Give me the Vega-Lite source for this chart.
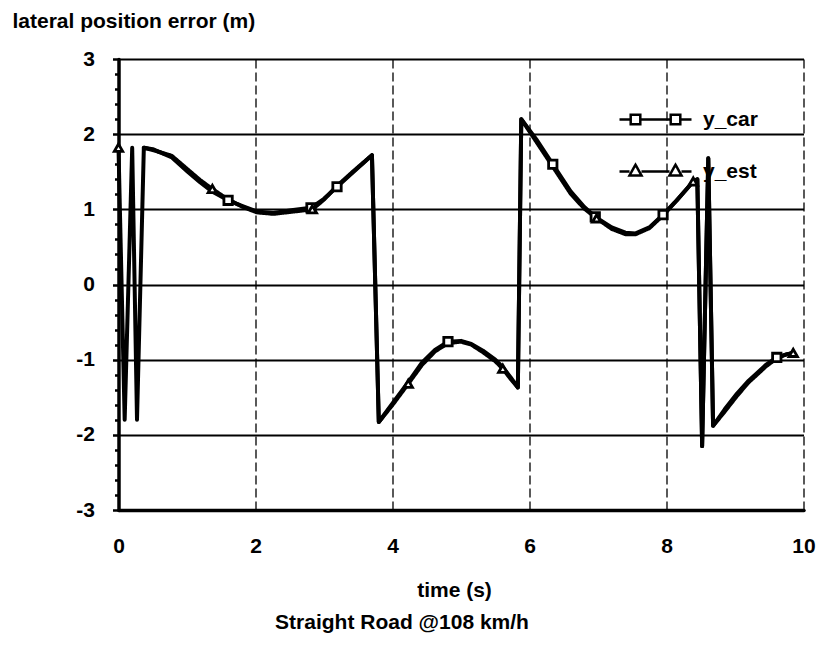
{
  "$schema": "https://vega.github.io/schema/vega-lite/v6.json",
  "autosize": "none",
  "width": 685,
  "height": 451,
  "padding": {"left": 118.5, "top": 59, "right": 15.5, "bottom": 136},
  "background": "white",
  "config": {
    "font": "Liberation Sans",
    "view": {"stroke": null},
    "axis": {"labelFont": "Liberation Sans", "titleFont": "Liberation Sans", "labelFontWeight": "bold", "titleFontWeight": "bold", "labelColor": "black", "titleColor": "black", "labelFontSize": 21, "titleFontSize": 21},
    "legend": {"orient": "none", "title": null, "padding": 0, "symbolSize": 1600, "symbolStrokeWidth": 2.5, "symbolStrokeColor": "black", "symbolFillColor": "white", "labelOffset": 26, "labelFontSize": 21, "labelFont": "Liberation Sans", "labelFontWeight": "bold", "labelColor": "black"}
  },
  "title": {"text": "Straight Road @108 km/h", "orient": "bottom", "anchor": "middle", "frame": "group", "dx": -59, "offset": 12, "font": "Liberation Sans", "fontSize": 21, "fontWeight": "bold", "color": "black"},
  "datasets": {
    "curve": [
      {"t": 0.37, "y": 1.82, "series": "y_car"},
      {"t": 0.5, "y": 1.8, "series": "y_car"},
      {"t": 0.78, "y": 1.69, "series": "y_car"},
      {"t": 1.01, "y": 1.5, "series": "y_car"},
      {"t": 1.19, "y": 1.36, "series": "y_car"},
      {"t": 1.36, "y": 1.24, "series": "y_car"},
      {"t": 1.6, "y": 1.12, "series": "y_car"},
      {"t": 1.82, "y": 1.04, "series": "y_car"},
      {"t": 2.02, "y": 0.97, "series": "y_car"},
      {"t": 2.26, "y": 0.95, "series": "y_car"},
      {"t": 2.55, "y": 0.99, "series": "y_car"},
      {"t": 2.81, "y": 1.02, "series": "y_car"},
      {"t": 3.0, "y": 1.14, "series": "y_car"},
      {"t": 3.19, "y": 1.3, "series": "y_car"},
      {"t": 3.42, "y": 1.49, "series": "y_car"},
      {"t": 3.7, "y": 1.72, "series": "y_car"},
      {"t": 3.8, "y": -1.83, "series": "y_car"},
      {"t": 4.01, "y": -1.57, "series": "y_car"},
      {"t": 4.23, "y": -1.3, "series": "y_car"},
      {"t": 4.43, "y": -1.04, "series": "y_car"},
      {"t": 4.62, "y": -0.87, "series": "y_car"},
      {"t": 4.81, "y": -0.76, "series": "y_car"},
      {"t": 5.0, "y": -0.75, "series": "y_car"},
      {"t": 5.15, "y": -0.79, "series": "y_car"},
      {"t": 5.32, "y": -0.88, "series": "y_car"},
      {"t": 5.5, "y": -1.0, "series": "y_car"},
      {"t": 5.61, "y": -1.1, "series": "y_car"},
      {"t": 5.72, "y": -1.23, "series": "y_car"},
      {"t": 5.83, "y": -1.37, "series": "y_car"},
      {"t": 5.88, "y": 2.2, "series": "y_car"},
      {"t": 6.1, "y": 1.93, "series": "y_car"},
      {"t": 6.34, "y": 1.6, "series": "y_car"},
      {"t": 6.6, "y": 1.24, "series": "y_car"},
      {"t": 6.8, "y": 1.03, "series": "y_car"},
      {"t": 6.96, "y": 0.9, "series": "y_car"},
      {"t": 7.2, "y": 0.76, "series": "y_car"},
      {"t": 7.4, "y": 0.69, "series": "y_car"},
      {"t": 7.55, "y": 0.68, "series": "y_car"},
      {"t": 7.75, "y": 0.76, "series": "y_car"},
      {"t": 7.95, "y": 0.93, "series": "y_car"},
      {"t": 8.15, "y": 1.12, "series": "y_car"},
      {"t": 8.39, "y": 1.37, "series": "y_car"},
      {"t": 8.45, "y": 1.4, "series": "y_car"},
      {"t": 8.52, "y": -2.15, "series": "y_car"},
      {"t": 8.61, "y": 1.68, "series": "y_car"},
      {"t": 8.68, "y": -1.88, "series": "y_car"},
      {"t": 8.85, "y": -1.66, "series": "y_car"},
      {"t": 9.03, "y": -1.45, "series": "y_car"},
      {"t": 9.2, "y": -1.28, "series": "y_car"},
      {"t": 9.32, "y": -1.18, "series": "y_car"},
      {"t": 9.45, "y": -1.07, "series": "y_car"},
      {"t": 9.61, "y": -0.97, "series": "y_car"},
      {"t": 9.75, "y": -0.93, "series": "y_car"},
      {"t": 9.85, "y": -0.91, "series": "y_car"},

      {"t": 0.0, "y": 1.82, "series": "y_est"},
      {"t": 0.09, "y": -1.8, "series": "y_est"},
      {"t": 0.2, "y": 1.82, "series": "y_est"},
      {"t": 0.27, "y": -1.8, "series": "y_est"},
      {"t": 0.37, "y": 1.82, "series": "y_est"},
      {"t": 0.5, "y": 1.79, "series": "y_est"},
      {"t": 0.78, "y": 1.71, "series": "y_est"},
      {"t": 1.01, "y": 1.53, "series": "y_est"},
      {"t": 1.19, "y": 1.39, "series": "y_est"},
      {"t": 1.37, "y": 1.27, "series": "y_est"},
      {"t": 1.6, "y": 1.13, "series": "y_est"},
      {"t": 1.82, "y": 1.03, "series": "y_est"},
      {"t": 2.02, "y": 0.96, "series": "y_est"},
      {"t": 2.26, "y": 0.94, "series": "y_est"},
      {"t": 2.55, "y": 0.97, "series": "y_est"},
      {"t": 2.83, "y": 1.0, "series": "y_est"},
      {"t": 3.0, "y": 1.13, "series": "y_est"},
      {"t": 3.19, "y": 1.31, "series": "y_est"},
      {"t": 3.42, "y": 1.5, "series": "y_est"},
      {"t": 3.7, "y": 1.72, "series": "y_est"},
      {"t": 3.8, "y": -1.83, "series": "y_est"},
      {"t": 4.01, "y": -1.59, "series": "y_est"},
      {"t": 4.23, "y": -1.32, "series": "y_est"},
      {"t": 4.43, "y": -1.07, "series": "y_est"},
      {"t": 4.62, "y": -0.89, "series": "y_est"},
      {"t": 4.81, "y": -0.78, "series": "y_est"},
      {"t": 5.0, "y": -0.76, "series": "y_est"},
      {"t": 5.15, "y": -0.8, "series": "y_est"},
      {"t": 5.32, "y": -0.9, "series": "y_est"},
      {"t": 5.5, "y": -1.02, "series": "y_est"},
      {"t": 5.61, "y": -1.12, "series": "y_est"},
      {"t": 5.72, "y": -1.25, "series": "y_est"},
      {"t": 5.83, "y": -1.37, "series": "y_est"},
      {"t": 5.88, "y": 2.2, "series": "y_est"},
      {"t": 6.1, "y": 1.9, "series": "y_est"},
      {"t": 6.34, "y": 1.57, "series": "y_est"},
      {"t": 6.6, "y": 1.21, "series": "y_est"},
      {"t": 6.8, "y": 1.01, "series": "y_est"},
      {"t": 6.98, "y": 0.88, "series": "y_est"},
      {"t": 7.2, "y": 0.74, "series": "y_est"},
      {"t": 7.4, "y": 0.67, "series": "y_est"},
      {"t": 7.55, "y": 0.67, "series": "y_est"},
      {"t": 7.75, "y": 0.75, "series": "y_est"},
      {"t": 7.95, "y": 0.92, "series": "y_est"},
      {"t": 8.15, "y": 1.12, "series": "y_est"},
      {"t": 8.39, "y": 1.37, "series": "y_est"},
      {"t": 8.45, "y": 1.4, "series": "y_est"},
      {"t": 8.52, "y": -2.15, "series": "y_est"},
      {"t": 8.61, "y": 1.68, "series": "y_est"},
      {"t": 8.68, "y": -1.88, "series": "y_est"},
      {"t": 8.85, "y": -1.69, "series": "y_est"},
      {"t": 9.03, "y": -1.48, "series": "y_est"},
      {"t": 9.2, "y": -1.3, "series": "y_est"},
      {"t": 9.32, "y": -1.2, "series": "y_est"},
      {"t": 9.45, "y": -1.09, "series": "y_est"},
      {"t": 9.61, "y": -0.98, "series": "y_est"},
      {"t": 9.75, "y": -0.93, "series": "y_est"},
      {"t": 9.85, "y": -0.91, "series": "y_est"}
    ],
    "markers": [
      {"t": 1.6, "y": 1.12, "series": "y_car"},
      {"t": 2.81, "y": 1.02, "series": "y_car"},
      {"t": 3.19, "y": 1.3, "series": "y_car"},
      {"t": 4.81, "y": -0.76, "series": "y_car"},
      {"t": 6.34, "y": 1.6, "series": "y_car"},
      {"t": 6.96, "y": 0.9, "series": "y_car"},
      {"t": 7.95, "y": 0.93, "series": "y_car"},
      {"t": 9.61, "y": -0.97, "series": "y_car"},
      {"t": 0.0, "y": 1.82, "series": "y_est"},
      {"t": 1.37, "y": 1.27, "series": "y_est"},
      {"t": 2.83, "y": 1.0, "series": "y_est"},
      {"t": 4.23, "y": -1.32, "series": "y_est"},
      {"t": 5.61, "y": -1.12, "series": "y_est"},
      {"t": 6.98, "y": 0.88, "series": "y_est"},
      {"t": 8.39, "y": 1.37, "series": "y_est"},
      {"t": 9.85, "y": -0.91, "series": "y_est"}
    ]
  },
  "encoding": {
    "x": {
      "field": "t", "type": "quantitative",
      "scale": {"domain": [0, 10], "nice": false, "zero": false},
      "axis": {
        "values": [0, 2, 4, 6, 8, 10],
        "title": "time (s)",
        "titleX": 335.5, "titleY": 86, "titleAlign": "center", "titleBaseline": "alphabetic",
        "domainColor": "black", "domainWidth": 3.5, "domainCap": "round",
        "ticks": false, "labelPadding": 25, "labelFlush": false,
        "grid": true, "gridColor": "black", "gridWidth": 1.3, "gridDash": [9, 4], "gridOpacity": 1
      }
    },
    "y": {
      "field": "y", "type": "quantitative",
      "scale": {"domain": [-3, 3], "nice": false, "zero": false},
      "axis": {
        "values": [-3, -2.8, -2.6, -2.4, -2.2, -2, -1.8, -1.6, -1.4, -1.2, -1, -0.8, -0.6, -0.4, -0.2, 0, 0.2, 0.4, 0.6, 0.8, 1, 1.2, 1.4, 1.6, 1.8, 2, 2.2, 2.4, 2.6, 2.8, 3],
        "labelExpr": "abs(datum.value - round(datum.value)) < 0.01 ? '' + round(datum.value) : ''",
        "title": "lateral position error (m)",
        "titleAngle": 0, "titleX": -106.5, "titleY": -32, "titleAlign": "left", "titleBaseline": "alphabetic",
        "domainColor": "black", "domainWidth": 3.5, "domainCap": "round",
        "tickColor": "black", "tickWidth": 2.5,
        "tickSize": {"condition": {"test": "abs(datum.value - round(datum.value)) < 0.01", "value": 6}, "value": 4},
        "labelPadding": 18, "labelFlush": false,
        "grid": true, "gridColor": "black", "gridWidth": 2,
        "gridOpacity": {"condition": {"test": "abs(datum.value - round(datum.value)) < 0.01", "value": 1}, "value": 0}
      }
    }
  },
  "layer": [
    {
      "data": {"name": "curve"},
      "transform": [{"filter": "datum.series === 'y_car'"}],
      "mark": {"type": "line", "strokeWidth": 4, "strokeJoin": "round", "strokeCap": "round"},
      "encoding": {
        "stroke": {
          "field": "series", "type": "nominal",
          "scale": {"domain": ["y_car"], "range": ["black"]},
          "legend": {
            "legendX": 515.5, "legendY": 39,
            "symbolType": "M-1.8,0L-1.24,0M-0.76,0L0.76,0M1.24,0L1.8,0M-1.24,-0.24L-0.76,-0.24L-0.76,0.24L-1.24,0.24ZM0.76,-0.24L1.24,-0.24L1.24,0.24L0.76,0.24Z"
          }
        }
      }
    },
    {
      "data": {"name": "curve"},
      "transform": [{"filter": "datum.series === 'y_est'"}],
      "mark": {"type": "line", "stroke": "black", "strokeWidth": 4, "strokeJoin": "round", "strokeCap": "round"},
      "encoding": {
        "strokeDash": {
          "field": "series", "type": "nominal",
          "scale": {"domain": ["y_est"], "range": [[1, 0]]},
          "legend": {
            "legendX": 515.5, "legendY": 91,
            "symbolType": "M-1.8,0L-1.3,0M-0.7,0L0.7,0M1.3,0L1.8,0M-1,-0.34L-0.7,0.2L-1.3,0.2ZM1,-0.34L1.3,0.2L0.7,0.2Z"
          }
        }
      }
    },
    {
      "data": {"name": "markers"},
      "mark": {"type": "point", "filled": false, "fill": "white", "stroke": "black", "strokeWidth": 2.8, "size": 70, "opacity": 1},
      "encoding": {
        "shape": {
          "field": "series", "type": "nominal",
          "scale": {"domain": ["y_car", "y_est"], "range": ["square", "triangle-up"]},
          "legend": null
        }
      }
    }
  ]
}
